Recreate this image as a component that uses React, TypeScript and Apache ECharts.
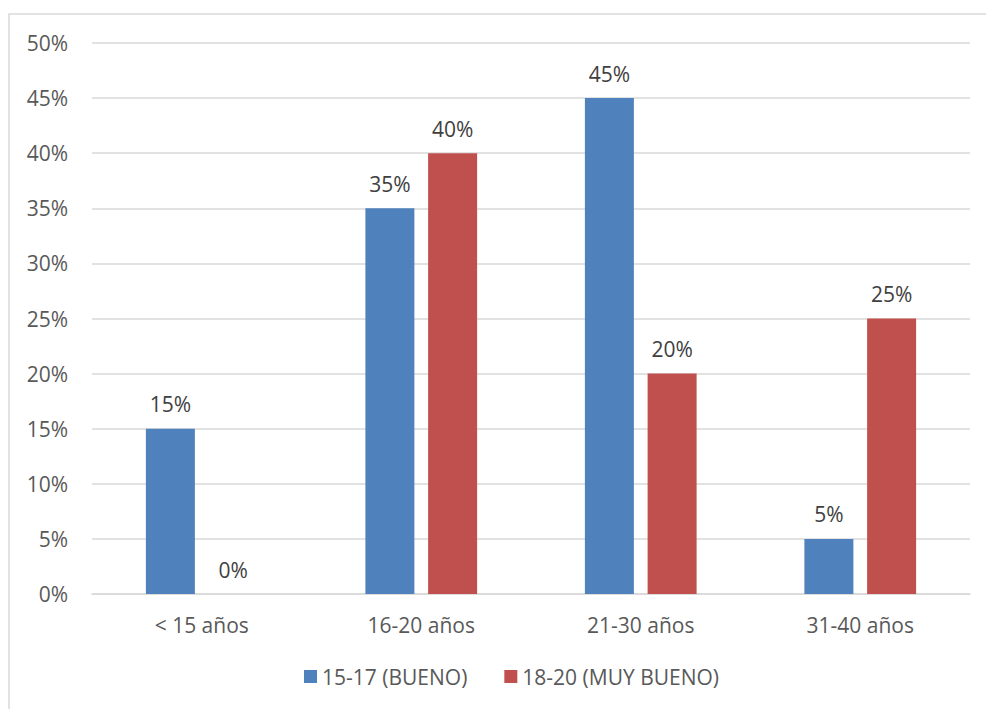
import React, { useEffect, useRef } from "react";
import * as echarts from "echarts";

const categories = ["< 15 años", "16-20 años", "21-30 años", "31-40 años"];
const seriesNames = ["15-17 (BUENO)", "18-20 (MUY BUENO)"];
const bueno = [15, 35, 45, 5];
const muyBueno = [0, 40, 20, 25];

const FONT = "'Open Sans', 'Liberation Sans', sans-serif";
const TEXT = "#595959";
const FS = 21;

export default function App() {
  const ref = useRef<HTMLDivElement>(null);
  useEffect(() => {
    if (!ref.current) return;
    const chart = echarts.init(ref.current, null, { renderer: "svg" });
    const label = {
      show: true,
      position: "top",
      distance: 14,
      formatter: "{c}%",
      color: "#404040",
      fontSize: FS,
      fontFamily: FONT,
    };
    chart.setOption({
      animation: false,
      backgroundColor: "#ffffff",
      textStyle: { fontFamily: FONT },
      graphic: [
        {
          type: "rect",
          shape: { x: 9, y: 14, width: 1000, height: 720 },
          style: { fill: "none", stroke: "#d9d9d9", lineWidth: 1.5 },
          silent: true,
        },
      ],
      grid: { left: 92, right: 16, top: 43, bottom: 115, containLabel: false },
      legend: {
        bottom: 17,
        left: 299,
        itemWidth: 13,
        itemHeight: 13,
        itemGap: 37,
        icon: "rect",
        textStyle: { color: TEXT, fontSize: FS, fontFamily: FONT },
        data: seriesNames,
      },
      xAxis: {
        type: "category",
        data: categories,
        axisLine: { show: true, lineStyle: { color: "#d9d9d9", width: 1.5 } },
        axisTick: { show: false },
        axisLabel: { color: TEXT, fontSize: FS, fontFamily: FONT, margin: 20 },
      },
      yAxis: {
        type: "value",
        min: 0,
        max: 50,
        interval: 5,
        axisLine: { show: false },
        axisTick: { show: false },
        axisLabel: { color: TEXT, fontSize: FS, fontFamily: FONT, margin: 24, formatter: "{value}%" },
        splitLine: { lineStyle: { color: "#d9d9d9", width: 1.5 } },
      },
      series: [
        {
          name: seriesNames[0],
          type: "bar",
          data: bueno,
          barWidth: 49,
          barGap: "28%",
          itemStyle: { color: "#4F81BD" },
          label,
        },
        {
          name: seriesNames[1],
          type: "bar",
          data: muyBueno,
          barWidth: 49,
          barGap: "28%",
          itemStyle: { color: "#C0504D" },
          label,
        },
      ],
    });
    return () => chart.dispose();
  }, []);
  return (
    <div
      ref={ref}
      style={{ position: "fixed", left: 0, top: 0, width: 986, height: 709 }}
    />
  );
}
